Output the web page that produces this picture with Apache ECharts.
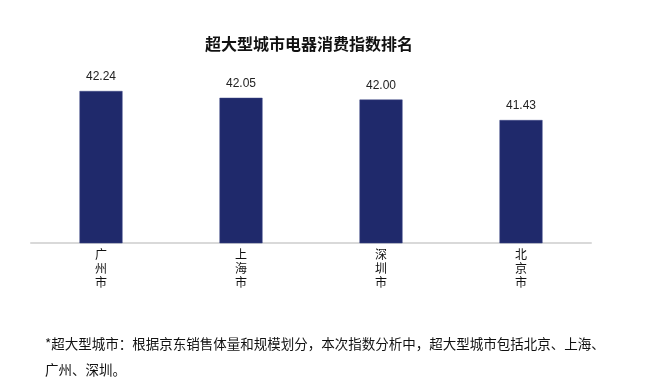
<!DOCTYPE html>
<html>
<head>
<meta charset="utf-8">
<script src="https://cdn.jsdelivr.net/npm/echarts@6/dist/echarts.min.js"></script>
<style>
html,body{margin:0;padding:0;background:#fff;}
#c{width:650px;height:387px;}
</style>
</head>
<body>
<div id="c"></div>
<script>
const categories = ['广州市', '上海市', '深圳市', '北京市'];
const values = [42.24, 42.05, 42.00, 41.43];
const titleText = '超大型城市电器消费指数排名';
const footnote = '*超大型城市：根据京东销售体量和规模划分，本次指数分析中，超大型城市包括北京、上海、\n广州、深圳。';

const chart = echarts.init(document.getElementById('c'), null, {renderer: 'canvas'});
chart.setOption({
  backgroundColor: '#ffffff',
  animation: false,
  title: [
    {
      text: titleText,
      left: 200, top: 31,
      textStyle: {fontFamily: 'Noto Sans CJK SC', fontSize: 16, fontWeight: 'bold', color: '#111'}
    },
    {
      text: footnote,
      left: 40, top: 326,
      textStyle: {fontFamily: 'Noto Sans CJK SC', fontSize: 13.5, fontWeight: 'normal', color: '#111', lineHeight: 26}
    }
  ],
  grid: {left: 31, right: 59, top: 91, bottom: 144, containLabel: false},
  xAxis: {
    type: 'category',
    data: categories,
    axisLine: {lineStyle: {color: '#d9d9d9', width: 2}},
    axisTick: {show: false},
    axisLabel: {
      margin: 4,
      fontFamily: 'Noto Sans CJK SC', fontSize: 12, color: '#111', lineHeight: 14,
      formatter: v => v.split('').join('\n')
    }
  },
  yAxis: {
    type: 'value', min: 38, max: 42.24, show: false,
    splitLine: {show: false}
  },
  series: [{
    type: 'bar',
    data: values,
    barWidth: 43,
    itemStyle: {color: '#1f296b', borderColor: '#3a4583', borderWidth: 0.5},
    label: {
      show: true, position: 'top', distance: 8,
      fontFamily: 'Liberation Sans', fontSize: 12, color: '#222',
      formatter: p => p.value.toFixed(2)
    }
  }]
});
</script>
</body>
</html>
